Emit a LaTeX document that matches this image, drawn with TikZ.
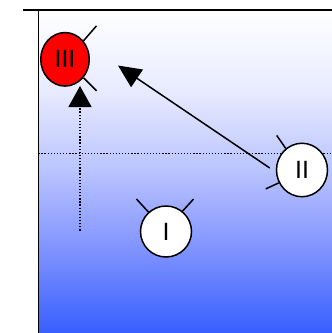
\documentclass[tikz,border=0pt]{standalone}
\usepackage{fontspec}
\setmainfont{Liberation Sans}
\usetikzlibrary{arrows.meta,shapes.geometric}
\definecolor{cA}{RGB}{55,95,255}
\definecolor{cB}{RGB}{125,145,255}
\definecolor{cC}{RGB}{185,195,255}
\definecolor{cD}{RGB}{232,235,255}
\pgfdeclareverticalshading{bgshade}{100bp}{color(0bp)=(cA); color(25bp)=(cA); color(37.5bp)=(cB); color(50bp)=(cC); color(62.5bp)=(cD); color(75bp)=(white); color(100bp)=(white)}
\tikzset{
  frameline/.style={line width=1.4pt, black},
  tick/.style={line width=1.5pt, black},
  state/.style={ellipse, draw=black, line width=1.5pt, fill=white, inner sep=0pt,
    font=\fontsize{25}{25}\selectfont},
  dotline/.style={line width=1.3pt, dash pattern=on 1.3pt off 1.8pt},
  bigarrow/.style={line width=1.5pt, -{Triangle[length=23pt,width=21pt]}},
  uparrow/.style={line width=1.3pt, dash pattern=on 1.3pt off 1.8pt, -{Triangle[length=21pt,width=23pt]}}
}
\begin{document}
\begin{tikzpicture}[x=1pt,y=-1pt]
\useasboundingbox (0,0) rectangle (332,333);
\shade[shading=bgshade] (38.3,10) rectangle (332,333);
\coordinate (tl) at (22.7,10);
\coordinate (tr) at (332,10);
\coordinate (lt) at (38.3,10);
\coordinate (lb) at (38.3,333);
\draw[frameline] (tl) -- (tr);
\draw[frameline] (lt) -- (lb);
% horizontal dotted line
\coordinate (hl) at (38.3,153.3);
\coordinate (hr) at (332,153.3);
\draw[dotline] (hl) -- (hr);
% nodes
\node[state, fill=red, minimum width=48.5pt, minimum height=53.5pt] (III) at (65,59.3) {III};
\node[state, minimum width=51pt, minimum height=53.5pt] (II) at (302,170) {II};
\node[state, minimum width=51pt, minimum height=51pt] (I) at (166,231.5) {I};
% ticks
\draw[tick] (III.45) -- ++(13,-15);
\draw[tick] (III.-45) -- ++(13,13);
\draw[tick] (II.127) -- ++(-9,-13);
\draw[tick] (II.209) -- ++(-13,6);
\draw[tick] (I.132) -- ++(-12,-13);
\draw[tick] (I.51) -- ++(11,-12);
% arrows
\coordinate (tipA) at (118,65.5);
\draw[bigarrow] ([shift={(-6,-2)}]II.west) -- (tipA);
\coordinate (upS) at (80,230.5);
\coordinate (tipB) at (80,86);
\draw[uparrow] (upS) -- (tipB);
\end{tikzpicture}
\end{document}
